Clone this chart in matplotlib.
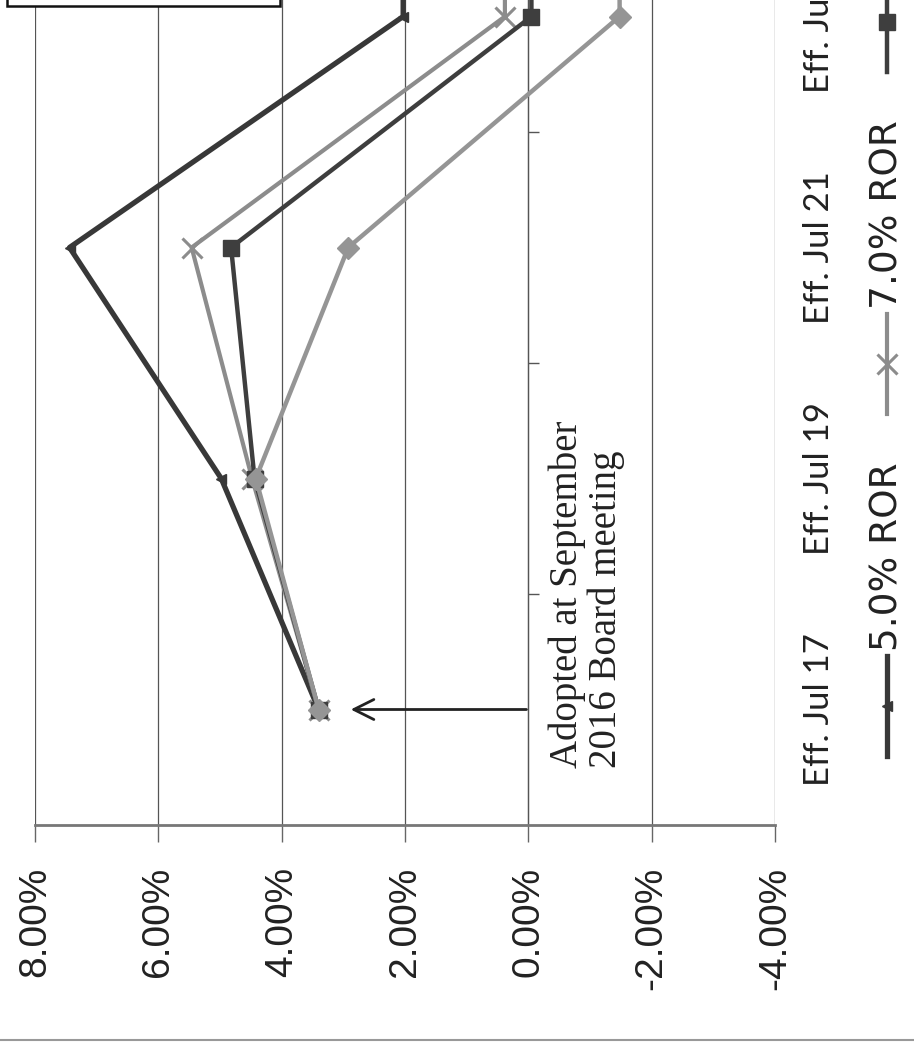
import matplotlib
matplotlib.use("Agg")
import matplotlib.pyplot as plt
import matplotlib.transforms as mtransforms
from matplotlib.lines import Line2D
from matplotlib.patches import Rectangle

# Rate change by effective date, in percent
categories = ["Eff. Jul 17", "Eff. Jul 19", "Eff. Jul 21", "Eff. Jul 23", "Eff. Jul 25"]
ror_50 = [3.40, 4.98, 7.44, 2.03, 2.03]
ror_70 = [3.40, 4.48, 5.46, 0.38, 0.38]
ror_75 = [3.40, 4.44, 4.82, -0.05, -0.05]
ror_80 = [3.40, 4.42, 2.92, -1.48, -1.48]
series_labels = ["5.0% ROR", "7.0% ROR", "7.5% ROR", "8.0% ROR"]
value_ticks = [8, 6, 4, 2, 0, -2, -4]
note = "Adopted at September\n2016 Board meeting"

W, H = 914, 1047
fig = plt.figure(figsize=(W / 100, H / 100), dpi=100)
fig.patch.set_facecolor("white")

def fx(px):
    return px / W

def fy(py):
    return 1 - py / H

# chart is laid out turned on its side: values run left->right (high to low),
# dates run bottom->top
n = len(categories)
ax = fig.add_axes([fx(35), fy(825), fx(740), n * 231 / H])
ax.set_xlim(8, -4)
ax.set_ylim(-0.5, n - 0.5)
ax.set_facecolor("none")

styles = [
    dict(color="#383838", lw=3.8, marker="<", ms=7),
    dict(color="#8c8c8c", lw=3.0, marker="x", ms=14, mew=2.2),
    dict(color="#3e3e3e", lw=3.2, marker="s", ms=11),
    dict(color="#959595", lw=3.2, marker="D", ms=11),
]
idx = list(range(n))
for vals, st in zip([ror_50, ror_70, ror_75, ror_80], styles):
    ax.plot(vals, idx, **st, zorder=3)

# value gridlines + axis along the bottom
ax.set_xticks(value_ticks)
ax.set_xticklabels([f"{v:.2f}%" for v in value_ticks], rotation=90,
                   fontsize=28, family="Liberation Sans", color="#222")
ax.grid(axis="x", color="#555", lw=0.9)
ax.tick_params(axis="x", direction="out", length=12, width=1, color="#666", pad=18)
for s in ["top", "left"]:
    ax.spines[s].set_visible(False)
ax.spines["bottom"].set_color("#777")
ax.spines["bottom"].set_linewidth(2)

# category axis crosses at 0%
ax.spines["right"].set_position(("data", 0))
ax.spines["right"].set_color("#555")
ax.spines["right"].set_linewidth(0.9)
ax.yaxis.set_ticks_position("right")
ax.set_yticks([i + 0.5 for i in range(n - 1)])
ax.set_yticklabels([])
ax.tick_params(axis="y", direction="out", length=8, width=1, color="#555")

# date labels sit below the plot (to the right here)
lab_tr = mtransforms.blended_transform_factory(fig.transFigure, ax.transData)
for i, c in enumerate(categories):
    ax.text(fx(819), i, c, transform=lab_tr, rotation=90, ha="center", va="center",
            fontsize=25, family="Lato", color="#222", clip_on=False)

# arrow + note
ax.annotate("", xy=(2.88, 0), xytext=(0.03, 0),
            arrowprops=dict(arrowstyle="->", lw=2, color="#222",
                            mutation_scale=36, shrinkA=0, shrinkB=0))
fig.text(fx(587), fy(768), note, rotation=90, ha="center", va="bottom",
         multialignment="left", linespacing=1.05, fontsize=28,
         family="Liberation Serif", color="#222")

# legend, drawn along the right edge
for i, (lab, st) in enumerate(zip(series_labels, styles)):
    c = 706 - i * 342
    fig.add_artist(Line2D([fx(887), fx(887)], [fy(c + 50), fy(c - 50)],
                          color=st["color"], lw=st["lw"]))
    fig.add_artist(Line2D([fx(887)], [fy(c)], color=st["color"], marker=st["marker"],
                          ms=st["ms"], mew=st.get("mew", 1), lw=0))
    fig.text(fx(887), fy(c - 55), lab, rotation=90, ha="center", va="bottom",
             fontsize=27, family="DejaVu Sans", color="#222")

# text box at the top left and chart border at the bottom
fig.add_artist(Rectangle((fx(7), fy(6)), fx(273), 0.05, transform=fig.transFigure,
                         facecolor="white", edgecolor="#111", lw=1.8, zorder=5))
fig.add_artist(Line2D([0, 1], [fy(1040), fy(1040)], color="#999", lw=1.5))

fig.savefig("out.png", dpi=100)
